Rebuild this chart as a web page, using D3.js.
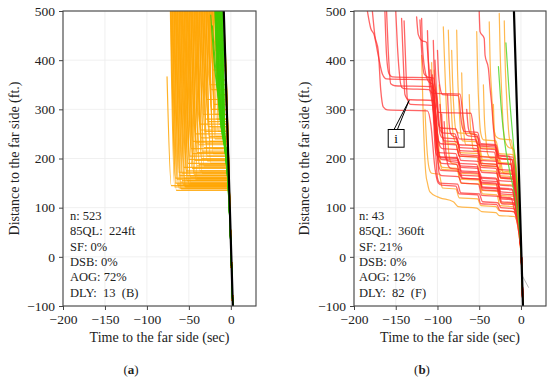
<!DOCTYPE html>
<html lang="en">
<head>
<meta charset="UTF-8">
<title>Vehicle trajectories</title>
<style>
  body { margin: 0; background: #fff; }
  svg { display: block; font-family: "Liberation Serif", "Times New Roman", serif; }
  .grid line { stroke: #ececec; stroke-width: 0.8; }
  .frame { fill: none; stroke: #444; stroke-width: 1.1; }
  .axis text { font-size: 13.5px; fill: #222; font-family: "Liberation Serif", serif; }
  .axis line { stroke: #444; }
  .axis path { display: none; }
  .traj { fill: none; stroke-linejoin: round; stroke-linecap: round; }
  .stats text { font-size: 12.5px; fill: #222; white-space: pre; }
</style>
</head>
<body>
<div id="chart"></div>
<script src="https://d3js.org/d3.v7.min.js"></script>
<script>
const tTicks = [-200, -150, -100, -50, 0];
const dTicks = [-100, 0, 100, 200, 300, 400, 500];

// reference trajectory and the shared crossing / exit points
const blackLine = [[-8.4, 500], [2.4, -100]];
const crossPoint = [0.5, 0];
const exitPoint = [2.3, -100];

// (a) queued vehicles: [tTop, dTop, tStop, dStop, tGo]
const leftOrange = [
  [-72,500,-67,142,-3.0], [-71,500,-66,150,-3.2], [-70,500,-65,135,-2.9], [-69,500,-64,158,-3.4],
  [-68,500,-63,145,-3.1], [-67,500,-62,140,-3.0], [-66,500,-61,165,-3.5], [-65,500,-60,152,-3.3],
  [-64,500,-59,138,-3.0], [-63,500,-58,170,-3.7], [-62,500,-57,148,-3.2], [-61,500,-56,160,-3.4],
  [-60,500,-55,143,-3.1], [-76,366,-71,145,-3.1], [-59,500,-53,175,-3.9], [-58,500,-52,155,-3.3],
  [-57,500,-51,190,-4.0], [-56,500,-50,148,-3.2], [-55,500,-49,205,-4.4], [-54,500,-48,162,-3.5],
  [-53,500,-47,220,-4.6], [-52,500,-46,180,-3.9], [-51,500,-45,235,-5.0], [-50,500,-44,168,-3.6],
  [-49,500,-43,196,-4.1], [-48,500,-42,250,-5.2], [-47,500,-42,158,-3.4], [-46,500,-40,212,-4.5],
  [-45,500,-40,185,-4.0], [-44,500,-38,228,-4.8], [-43,500,-37,270,-5.7], [-42,500,-37,175,-3.9],
  [-41,500,-35,242,-5.1], [-40,500,-35,200,-4.3], [-39,500,-34,215,-4.6], [-38,500,-33,290,-6.0],
  [-37,500,-32,185,-4.0], [-36,500,-31,255,-5.4], [-35,500,-30,230,-4.9], [-34,500,-29,320,-6.5],
  [-33,500,-28,205,-4.4], [-32,500,-27,275,-5.8], [-31,500,-26,245,-5.2], [-30,500,-25,350,-7.0],
  [-29,500,-24,190,-4.1], [-28,500,-23,300,-6.2], [-27,500,-22,262,-5.5], [-26,500,-21,220,-4.7],
  [-25,500,-21,380,-7.6], [-24,500,-20,310,-6.4], [-23,500,-19,240,-5.1], [-22,500,-18,420,-8.2],
  [-21,500,-17,280,-5.9], [-20,500,-17,460,-8.9], [-19,500,-16,330,-6.8], [-18,500,-15,255,-5.4],
  [-17,500,-14,390,-7.8], [-16,500,-13,300,-6.2], [-15,500,-13,440,-8.6], [-14,500,-12,360,-7.3],
  [-71.5,500,-66,160,-3.4], [-69.5,500,-64,148,-3.2], [-67.5,500,-62,172,-3.8], [-65.5,500,-60,139,-3.0],
  [-63.5,500,-58,155,-3.3], [-61.5,500,-56,182,-4.0], [-59.5,500,-54,142,-3.1], [-57.5,500,-52,165,-3.5],
  [-55.5,500,-50,198,-4.2], [-53.5,500,-48,150,-3.3], [-51.5,500,-46,210,-4.5], [-49.5,500,-44,172,-3.8],
  [-47.5,500,-42,232,-5.0], [-45.5,500,-40,160,-3.4], [-43.5,500,-38,188,-4.0], [-41.5,500,-36,258,-5.4],
  [-39.5,500,-34,170,-3.7], [-37.5,500,-32,222,-4.7], [-35.5,500,-30,280,-5.9], [-33.5,500,-28,195,-4.2],
  [-31.5,500,-27,265,-5.6], [-29.5,500,-25,235,-5.0], [-27.5,500,-23,340,-6.9], [-25.5,500,-21,210,-4.5],
  [-23.5,500,-19,290,-6.0], [-21.5,500,-18,245,-5.2], [-19.5,500,-16,400,-8.0], [-17.5,500,-14,270,-5.7],
  [-15.5,500,-13,330,-6.8], [-13.5,500,-11,480,-9.2]
];

// (a) vehicles arriving on green
const leftGreen = [
  [[-19,500],[-15.5,330],[-4.2,170]], [[-18.5,500],[-15,350],[-4,175]], [[-18,500],[-14.5,320],[-3.8,160]],
  [[-17.5,500],[-14,340],[-3.6,165]], [[-17,500],[-13.5,310],[-3.4,150]], [[-16.5,500],[-13,330],[-3.5,170]],
  [[-16,500],[-12.5,320],[-3.2,150]], [[-15.5,500],[-12,300],[-3.3,160]], [[-15,500],[-11.5,330],[-3.2,160]],
  [[-14.5,500],[-11,300],[-3,150]], [[-14,500],[-10.5,320],[-2.9,140]], [[-13.5,500],[-10,290],[-2.8,145]],
  [[-13,500],[-9.5,300],[-2.6,135]], [[-12.5,500],[-9,280],[-2.5,130]], [[-12,500],[-8.8,300],[-2.4,135]],
  [[-11.5,500],[-8.5,280],[-2.2,120]], [[-11,500],[-8.2,260],[-2,120]], [[-10.5,500],[-8,280],[-2,120]],
  [[-10,500],[-7.6,260],[-1.8,110]], [[-9.5,500],[-7.2,250],[-1.5,100]],
  [[-24,492],[-19,380],[-13,300],[-4,170]], [[-22,470],[-17,360],[-4,175]]
];

// (b) trajectories, [t, d] points
const rightRed = [
  [[-184,500],[-180,465],[-176,452],[-171,410],[-166,372],[-161,362],[-107,360],[-103,300],[-99,215],[-96,202],[-76,200],[-72,182],[-52,180],[-48,152],[-30,150],[-26,122],[-12,120],[-8,96]],
  [[-163,500],[-161,410],[-158,372],[-154,366],[-105,364],[-101,320],[-97,250],[-94,242],[-77,240],[-73,216],[-51,214],[-47,186],[-28,184],[-24,160],[-10,158],[-6,118]],
  [[-161,500],[-159,420],[-156,352],[-151,348],[-108,346],[-104,300],[-99,190],[-96,176],[-75,174],[-71,160],[-50,158],[-46,136],[-27,134],[-23,112],[-9,110],[-5,88]],
  [[-178,500],[-175,450],[-171,420],[-168,340],[-165,305],[-160,299],[-112,297],[-108,270],[-103,180],[-99,150],[-95,146],[-78,144],[-74,128],[-52,126],[-48,108],[-29,106],[-25,94],[-9,92],[-5,80]],
  [[-150,500],[-148,430],[-146,380],[-143,345],[-139,342],[-110,340],[-106,310],[-101,230],[-98,212],[-78,210],[-74,190],[-53,188],[-49,162],[-30,160],[-26,140],[-11,138],[-7,105]],
  [[-143,485],[-141,400],[-139,330],[-135,320],[-104,318],[-100,250],[-97,225],[-94,220],[-76,218],[-72,196],[-51,194],[-47,172],[-29,170],[-25,146],[-10,144],[-6,108]],
  [[-140,480],[-138,390],[-136,320],[-132,310],[-106,308],[-102,240],[-98,196],[-95,190],[-77,188],[-73,166],[-50,164],[-46,142],[-28,140],[-24,118],[-9,116],[-5,92]],
  [[-125,488],[-123,452],[-119,440],[-113,436],[-111,400],[-108,350],[-105,342],[-101,330],[-97,260],[-94,252],[-79,250],[-75,228],[-53,226],[-49,204],[-31,202],[-27,178],[-11,176],[-7,128]],
  [[-121,482],[-119,420],[-116,372],[-112,366],[-107,364],[-103,310],[-99,236],[-96,230],[-78,228],[-74,205],[-52,203],[-48,182],[-30,180],[-26,155],[-10,153],[-6,112]],
  [[-119,485],[-118,430],[-115,380],[-110,355],[-106,352],[-102,280],[-98,205],[-95,198],[-75,196],[-71,172],[-51,170],[-47,150],[-28,148],[-24,128],[-9,126],[-5,95]],
  [[-112,460],[-111,400],[-109,340],[-106,333],[-73,331],[-69,280],[-66,250],[-63,246],[-52,244],[-48,220],[-31,218],[-27,190],[-12,188],[-8,140]],
  [[-105,440],[-104,380],[-102,320],[-99,294],[-60,292],[-56,250],[-53,232],[-50,228],[-31,226],[-27,200],[-11,198],[-7,150]],
  [[-100,420],[-99,380],[-97,345],[-94,330],[-75,328],[-71,270],[-68,255],[-52,253],[-48,230],[-30,228],[-26,205],[-10,203],[-6,160]],
  [[-103,400],[-101,330],[-99,270],[-96,262],[-78,260],[-74,240],[-54,238],[-50,215],[-32,213],[-28,190],[-12,188],[-8,145]],
  [[-109,360],[-106,315],[-102,212],[-99,204],[-77,202],[-73,185],[-52,183],[-48,160],[-29,158],[-25,138],[-10,136],[-6,100]],
  [[-108,380],[-105,320],[-100,160],[-97,150],[-76,148],[-72,130],[-50,128],[-46,112],[-28,110],[-24,100],[-9,98],[-5,85]],
  [[-106,370],[-103,300],[-98,170],[-95,165],[-75,163],[-71,150],[-51,148],[-47,125],[-27,123],[-23,108],[-8,106],[-4,88]],
  [[-50,500],[-49,458],[-44,444],[-43,410],[-39,383],[-37,343],[-35,309],[-33,262],[-30,218],[-27,207],[-14,205],[-10,165],[-6,130]],
  [[-88,330],[-86,270],[-84,250],[-81,245],[-77,243],[-73,222],[-53,220],[-49,196],[-30,194],[-26,170],[-10,168],[-6,125]],
  [[-97,310],[-95,260],[-92,236],[-76,234],[-72,208],[-52,206],[-48,190],[-29,188],[-25,162],[-9,160],[-5,115]],
  [[-95,290],[-93,230],[-90,200],[-86,194],[-76,192],[-72,175],[-50,173],[-46,155],[-28,153],[-24,132],[-9,130],[-5,98]],
  [[-65,300],[-63,262],[-60,250],[-53,248],[-49,225],[-30,223],[-26,200],[-11,198],[-7,155]],
  [[-92,275],[-90,215],[-87,185],[-84,180],[-74,178],[-70,160],[-50,158],[-46,140],[-27,138],[-23,120],[-8,118],[-4,93]]
];

const rightOrange = [
  [[-119,410],[-117,280],[-114,170],[-112,150],[-109,132],[-100,122],[-97,120],[-81,112],[-75,102],[-53,99],[-47,92],[-30,90],[-26,84],[-8,82]],
  [[-93,468],[-92,420],[-90,330],[-88,250],[-86,205],[-83,190],[-77,188],[-73,170],[-52,168],[-48,148],[-29,146],[-25,125],[-9,123],[-5,100]],
  [[-87,461],[-86,400],[-84,320],[-82,260],[-79,235],[-76,230],[-73,212],[-51,210],[-47,185],[-28,183],[-24,160],[-8,158],[-4,120]],
  [[-77,461],[-76,380],[-74,300],[-72,250],[-70,236],[-52,234],[-48,205],[-27,202],[-23,175],[-9,172],[-5,135]],
  [[-71,374],[-70,300],[-68,245],[-66,228],[-50,226],[-46,198],[-25,196],[-21,170],[-8,168],[-4,125]],
  [[-53,458],[-52,380],[-50,290],[-48,250],[-45,238],[-30,236],[-26,210],[-10,208],[-6,160]],
  [[-38,478],[-37,400],[-35,330],[-33,270],[-30,245],[-25,240],[-12,238],[-8,190]],
  [[-26,495],[-25,420],[-23,330],[-21,260],[-18,230],[-14,222],[-9,220],[-5,160]],
  [[-107,395],[-106,330],[-103,270],[-100,215],[-97,190],[-94,182],[-77,180],[-73,158],[-51,156],[-47,135],[-28,133],[-24,110],[-8,108]],
  [[-104,380],[-103,320],[-100,255],[-97,200],[-95,178],[-76,176],[-72,150],[-50,148],[-46,128],[-29,126],[-25,104],[-10,102],[-6,90]],
  [[-98,350],[-96,290],[-94,245],[-91,232],[-78,230],[-74,205],[-53,203],[-49,176],[-30,174],[-26,148],[-9,146],[-5,110]],
  [[-83,420],[-82,360],[-80,290],[-78,258],[-75,252],[-55,250],[-51,222],[-31,220],[-27,192],[-11,190],[-7,140]],
  [[-62,330],[-61,280],[-59,240],[-57,218],[-50,215],[-46,190],[-30,188],[-26,165],[-10,163],[-6,125]],
  [[-45,350],[-44,290],[-42,240],[-40,210],[-36,200],[-28,198],[-24,172],[-9,170],[-5,130]],
  [[-33,310],[-32,260],[-30,225],[-28,205],[-22,200],[-10,198],[-6,150]],
  [[-115,300],[-113,230],[-110,180],[-107,170],[-98,168],[-94,140],[-78,138],[-74,120],[-52,118],[-48,104],[-30,102],[-26,94],[-9,92]],
  [[-20,480],[-19,400],[-17,320],[-15,260],[-12,225],[-8,215],[-5,170]]
];

const rightGreen = [
  [[-18,435],[-14,330],[-9,230],[-4,130]],
  [[-27,387],[-24,310],[-20,240],[-13,170],[-5,100]]
];
const rightGray = [[[0.5,-35],[9,-62]]];

const statsA = ['n: 523', '85QL:  224ft', 'SF: 0%', 'DSB: 0%', 'AOG: 72%', 'DLY:  13  (B)'];
const statsB = ['n: 43', '85QL:  360ft', 'SF: 21%', 'DSB: 0%', 'AOG: 12%', 'DLY:  82  (F)'];

// callout "i" in panel (b), data coordinates
const callout = { box: [-159, -140, 259, 223], base: [-152, -148], tip: [-134, 318], label: 'i' };

const W = 550, H = 381, plotTop = 11, plotBottom = 306;
const panels = [
  { x0: 63, x1: 256, stats: statsA, statsX: 70, tag: 'a', tagX: 131, yTitleX: 19 },
  { x0: 354, x1: 546, stats: statsB, statsX: 359, tag: 'b', tagX: 422, yTitleX: 309 }
];

const svg = d3.select('#chart').append('svg')
  .attr('width', W).attr('height', H);
svg.append('rect').attr('width', W).attr('height', H).attr('fill', '#fff');

function drawPanel(p, idx) {
  const x = d3.scaleLinear().domain([-200, 30]).range([p.x0, p.x1]);
  const y = d3.scaleLinear().domain([-100, 500]).range([plotBottom, plotTop]);
  const g = svg.append('g');

  g.append('clipPath').attr('id', 'clip' + idx)
    .append('rect').attr('x', p.x0).attr('y', plotTop)
    .attr('width', p.x1 - p.x0).attr('height', plotBottom - plotTop);

  const grid = g.append('g').classed('grid', true);
  grid.selectAll('.gx').data(tTicks).enter().append('line')
    .attr('x1', d => x(d)).attr('x2', d => x(d)).attr('y1', plotTop).attr('y2', plotBottom);
  grid.selectAll('.gy').data(dTicks).enter().append('line')
    .attr('y1', d => y(d)).attr('y2', d => y(d)).attr('x1', p.x0).attr('x2', p.x1);

  g.append('g').classed('axis', true)
    .attr('transform', `translate(0,${plotBottom})`)
    .call(d3.axisBottom(x).tickValues(tTicks).tickSize(4).tickPadding(4));
  g.append('g').classed('axis', true)
    .attr('transform', `translate(${p.x0},0)`)
    .call(d3.axisLeft(y).tickValues(dTicks).tickSize(4).tickPadding(4));

  const plot = g.append('g').attr('clip-path', `url(#clip${idx})`);

  g.append('rect').classed('frame', true)
    .attr('x', p.x0).attr('y', plotTop).attr('width', p.x1 - p.x0).attr('height', plotBottom - plotTop);

  g.append('text')
    .attr('x', (p.x0 + p.x1) / 2).attr('y', 342)
    .attr('text-anchor', 'middle').attr('font-size', 14).attr('fill', '#222')
    .text('Time to the far side (sec)');
  g.append('text')
    .attr('transform', `translate(${p.yTitleX},${(plotTop + plotBottom) / 2}) rotate(-90)`)
    .attr('text-anchor', 'middle').attr('font-size', 14).attr('fill', '#222')
    .text('Distance to the far side (ft.)');

  const tag = g.append('text')
    .attr('x', p.tagX).attr('y', 374)
    .attr('text-anchor', 'middle').attr('font-size', 13).attr('fill', '#222');
  tag.append('tspan').text('(');
  tag.append('tspan').attr('font-weight', 'bold').text(p.tag);
  tag.append('tspan').text(')');

  g.append('g').classed('stats', true)
    .selectAll('text').data(p.stats).enter().append('text')
    .attr('x', p.statsX).attr('y', (d, i) => 220 + i * 15.3)
    .text(d => d);

  return { plot, x, y };
}

const line = (x, y) => d3.line()
  .x(d => x(d[0])).y(d => y(d[1]))
  .curve(d3.curveMonotoneX);

// panel (a)
(function () {
  const { plot, x, y } = drawPanel(panels[0], 0);
  const path = line(x, y);

  plot.selectAll('.orange').data(leftOrange).enter().append('path')
    .classed('traj', true)
    .attr('d', r => path([[r[0], r[1]], [r[2], r[3]], [r[4], r[3]], crossPoint, exitPoint]))
    .attr('stroke', '#ffa500').attr('stroke-opacity', 0.85).attr('stroke-width', 1.2);

  plot.selectAll('.green').data(leftGreen).enter().append('path')
    .classed('traj', true)
    .attr('d', r => path(r.concat([crossPoint, exitPoint])))
    .attr('stroke', '#3ccc00').attr('stroke-opacity', 0.85).attr('stroke-width', 1.1);

  plot.append('path').classed('traj', true)
    .attr('d', d3.line().x(d => x(d[0])).y(d => y(d[1]))(blackLine))
    .attr('stroke', '#000').attr('stroke-width', 2.2);
})();

// panel (b)
(function () {
  const { plot, x, y } = drawPanel(panels[1], 1);
  const path = line(x, y);

  plot.selectAll('.gray').data(rightGray).enter().append('path')
    .classed('traj', true)
    .attr('d', r => d3.line().x(d => x(d[0])).y(d => y(d[1]))(r))
    .attr('stroke', '#bbb').attr('stroke-width', 1);

  plot.selectAll('.orange').data(rightOrange).enter().append('path')
    .classed('traj', true)
    .attr('d', r => path(r.concat([crossPoint, exitPoint])))
    .attr('stroke', '#ffa726').attr('stroke-opacity', 0.8).attr('stroke-width', 1.2);

  plot.selectAll('.red').data(rightRed).enter().append('path')
    .classed('traj', true)
    .attr('d', r => path(r.concat([crossPoint, exitPoint])))
    .attr('stroke', '#ff2a2a').attr('stroke-opacity', 0.72).attr('stroke-width', 1.3);

  plot.selectAll('.green').data(rightGreen).enter().append('path')
    .classed('traj', true)
    .attr('d', r => path(r.concat([crossPoint, exitPoint])))
    .attr('stroke', '#4fd62a').attr('stroke-opacity', 0.85).attr('stroke-width', 1.2);

  plot.append('path').classed('traj', true)
    .attr('d', d3.line().x(d => x(d[0])).y(d => y(d[1]))(blackLine))
    .attr('stroke', '#000').attr('stroke-width', 2.2);

  // callout
  const c = callout;
  const cg = plot.append('g');
  cg.append('path')
    .attr('d', `M${x(c.base[0])},${y(c.box[2])}L${x(c.tip[0])},${y(c.tip[1])}L${x(c.base[1])},${y(c.box[2])}`)
    .attr('fill', '#fff').attr('stroke', '#000').attr('stroke-width', 1);
  cg.append('rect')
    .attr('x', x(c.box[0])).attr('y', y(c.box[2]))
    .attr('width', x(c.box[1]) - x(c.box[0])).attr('height', y(c.box[3]) - y(c.box[2]))
    .attr('fill', '#fff').attr('stroke', '#000').attr('stroke-width', 1);
  cg.append('text')
    .attr('x', (x(c.box[0]) + x(c.box[1])) / 2).attr('y', (y(c.box[2]) + y(c.box[3])) / 2 + 4.5)
    .attr('text-anchor', 'middle').attr('font-size', 13).attr('fill', '#000')
    .text(c.label);
})();
</script>
</body>
</html>
